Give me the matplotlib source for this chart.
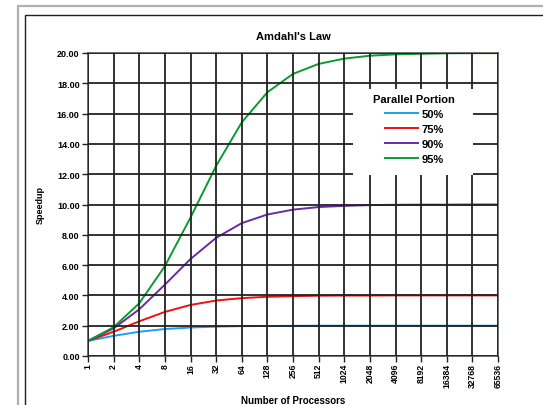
import matplotlib.pyplot as plt
from matplotlib.patches import Rectangle

plt.rcParams['font.family'] = ['Liberation Sans', 'DejaVu Sans']

# processors (category axis) and speedups
processors = ['1', '2', '4', '8', '16', '32', '64', '128', '256', '512', '1024',
              '2048', '4096', '8192', '16384', '32768', '65536']
p50 = [1.00, 1.33, 1.60, 1.78, 1.88, 1.94, 1.97, 1.98, 1.99, 2.00, 2.00,
       2.00, 2.00, 2.00, 2.00, 2.00, 2.00]
p75 = [1.00, 1.60, 2.29, 2.91, 3.37, 3.66, 3.82, 3.91, 3.95, 3.98, 3.99,
       3.99, 4.00, 4.00, 4.00, 4.00, 4.00]
p90 = [1.00, 1.82, 3.08, 4.71, 6.40, 7.80, 8.77, 9.34, 9.66, 9.83, 9.91,
       9.96, 9.98, 9.99, 9.99, 10.00, 10.00]
p95 = [1.00, 1.90, 3.48, 5.93, 9.14, 12.55, 15.42, 17.41, 18.62, 19.28, 19.63,
       19.82, 19.91, 19.95, 19.98, 19.99, 19.99]
series = [('50%', p50, '#1ea0ec'), ('75%', p75, '#f01010'),
          ('90%', p90, '#6a2aa8'), ('95%', p95, '#0a9a30')]
yticks = [0, 2, 4, 6, 8, 10, 12, 14, 16, 18, 20]

fig = plt.figure(figsize=(5.43, 4.06), dpi=100)

# frame borders of the screenshot
fig.patches.append(Rectangle((18/543, -0.1), 1.2, 1.1 - 7/406, transform=fig.transFigure,
                             fill=False, ec='#b0b0b0', lw=1.6))
fig.patches.append(Rectangle((25/543, -0.1), 1.2, 1.1 - 16/406, transform=fig.transFigure,
                             fill=False, ec='#202020', lw=1.0))

ax = fig.add_axes([88/543, 1 - 357/406, 410/543, 303/406])
x = list(range(len(processors)))
for name, vals, col in series:
    ax.plot(x, vals, color=col, lw=1.4, label=name, zorder=2)

ax.set_xlim(0, len(processors) - 1)
ax.set_ylim(0, 20)
ax.set_xticks(x)
ax.set_xticklabels(processors, rotation=90, fontsize=6.2, fontweight='bold')
ax.set_yticks(yticks)
ax.set_yticklabels(['%.2f' % v for v in yticks], fontsize=6.5, fontweight='bold')
ax.tick_params(axis='x', length=4, width=1, color='#222222', pad=1)
ax.tick_params(axis='y', length=4, width=1, color='#222222', pad=2)
ax.set_axisbelow(False)
ax.grid(True, color='#222222', lw=1.3)
for s in ax.spines.values():
    s.set_color('#555555')
    s.set_linewidth(1.2)

ax.set_title("Amdahl's Law", fontsize=8, fontweight='bold', pad=10)
ax.set_xlabel('Number of Processors', fontsize=7, fontweight='bold')
ax.xaxis.set_label_coords(0.5, -0.13)
ax.set_ylabel('Speedup', fontsize=6.5, fontweight='bold')
ax.yaxis.set_label_coords(-0.105, 0.5)

# white box behind the legend
ax.add_patch(Rectangle((353/543, 1 - 176/406), 120/543, 86/406,
                       transform=fig.transFigure, fc='white', ec='none', zorder=4))

leg = ax.legend(title='Parallel Portion', loc='upper center',
                bbox_to_anchor=(414/543, 1 - 87/406), bbox_transform=fig.transFigure,
                frameon=False, prop={'weight': 'bold', 'size': 8},
                handlelength=3.0, handletextpad=0.3, labelspacing=0.45,
                borderpad=0.2)
leg.get_title().set_fontweight('bold')
leg.get_title().set_fontsize(8)
leg.set_zorder(5)

fig.savefig('out.png', dpi=100)
